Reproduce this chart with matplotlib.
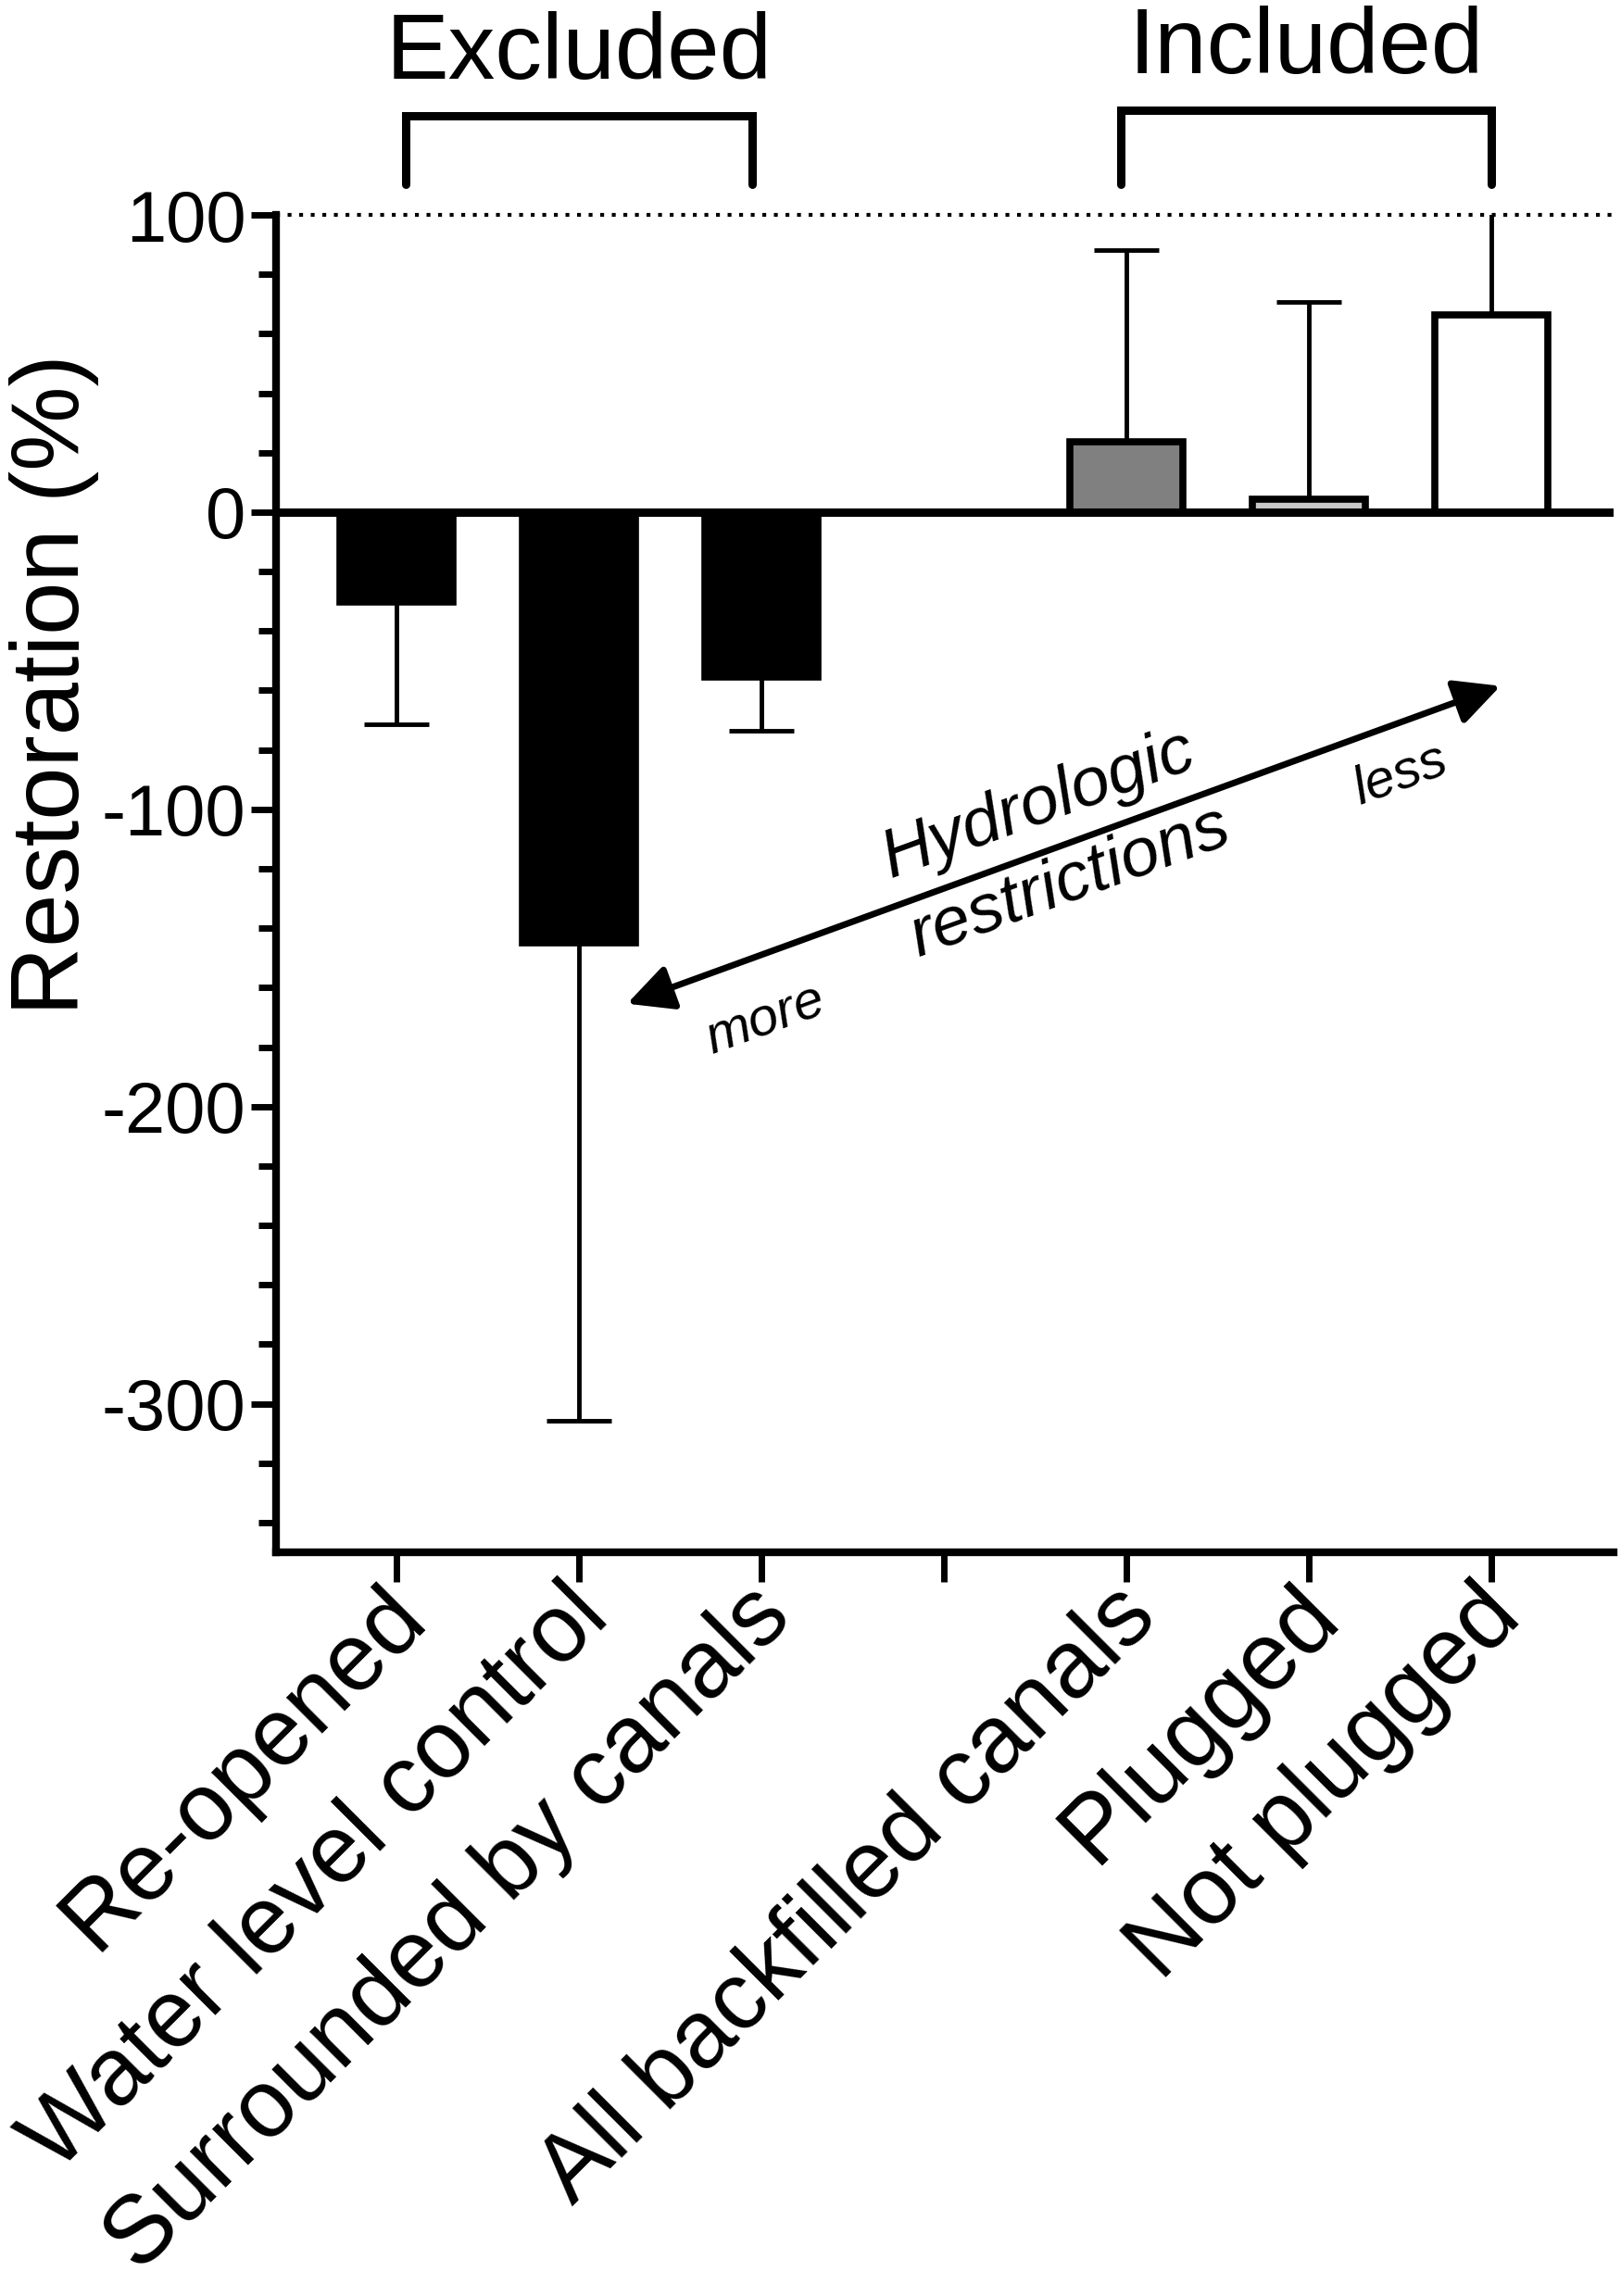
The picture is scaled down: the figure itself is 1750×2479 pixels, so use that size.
import matplotlib
matplotlib.use("Agg")
import matplotlib.pyplot as plt
import matplotlib.transforms
import numpy as np

plt.rcParams['font.family'] = ['Liberation Sans', 'DejaVu Sans']

# data (position 3 is the empty gap)
categories = ["Re-opened", "Water level control", "Surrounded by canals", "",
              "All backfilled canals", "Plugged", "Not plugged"]
positions = [0, 1, 2, 4, 5, 6]
means = [-30.4, -145.0, -55.5, 23.6, 4.2, 66.2]
sd = [41.0, 160.8, 18.1, 64.7, 66.6, 40.0]
fills = ['black', 'black', 'black', '#808080', '#c8c8c8', 'white']

groups = ["Excluded", "Included"]
group_spans = [(0.05, 1.95), (3.97, 6.0)]

fig = plt.figure(figsize=(17.5, 24.79), dpi=100)
ax = fig.add_axes([0.1703, 0.3239, 0.8251, 0.5825])

# bars with one-sided error bars (away from zero)
for x, m, s, c in zip(positions, means, sd, fills):
    ax.bar(x, m, width=0.62, color=c, edgecolor='black', linewidth=5.5, zorder=2)
    if m < 0:
        yerr = [[s], [0]]
    else:
        yerr = [[0], [s]]
    ax.errorbar(x, m, yerr=yerr, fmt='none', ecolor='black', elinewidth=3.5,
                capsize=25, capthick=3.5, zorder=1)

# zero line and 100 % dotted line
ax.axhline(0, color='black', linewidth=6.5, zorder=3)
ax.axhline(100, color='black', linewidth=3, linestyle=(0, (1, 2)),
           clip_on=False, zorder=1)

ax.set_xlim(-0.66, 6.67)
ax.set_ylim(-350, 100)

for side in ['top', 'right']:
    ax.spines[side].set_visible(False)
for side in ['left', 'bottom']:
    ax.spines[side].set_linewidth(6)

ax.set_yticks([100, 0, -100, -200, -300])
ax.set_yticklabels(['100', '0', '-100', '-200', '-300'])
ax.set_yticks(np.arange(-340, 100, 20), minor=True)
ax.tick_params(axis='y', which='major', length=19.5, width=5, labelsize=56, pad=4)
ax.tick_params(axis='y', which='minor', length=14, width=5)

ax.set_xticks(np.arange(len(categories)))
ax.set_xticklabels(categories, rotation=45, ha='right', va='top',
                   rotation_mode='anchor', fontsize=74)
ax.tick_params(axis='x', length=23, width=5, pad=-9)

# move x tick labels a little to the left
offset = matplotlib.transforms.ScaledTranslation(-18 / 100., 0, fig.dpi_scale_trans)
for label in ax.xaxis.get_majorticklabels():
    label.set_transform(label.get_transform() + offset)

ax.set_ylabel('Restoration (%)', fontsize=74, y=0.649, labelpad=2)

# group brackets above the plot
bracket_y = [133.2, 135.1]
label_y = [145.8, 147.7]
for name, (x0, x1), by, ly in zip(groups, group_spans, bracket_y, label_y):
    ax.plot([x0, x0, x1, x1], [110.3, by, by, 110.3], color='black', linewidth=6.5,
            solid_capstyle='round', solid_joinstyle='miter', clip_on=False)
    ax.text((x0 + x1) / 2, ly, name, ha='center', va='baseline', fontsize=73,
            clip_on=False)

# double-headed arrow for hydrologic restrictions
ax.annotate('', xy=(6.05, -58.5), xytext=(1.264, -165.4),
            arrowprops=dict(arrowstyle='<|-|>,head_length=0.6,head_width=0.3',
                            mutation_scale=50, lw=5, color='black',
                            shrinkA=0, shrinkB=0))
ax.text(3.52, -98.4, 'Hydrologic', rotation=20, ha='center', va='center',
        fontsize=54, style='italic', rotation_mode='anchor')
ax.text(3.69, -124.3, 'restrictions', rotation=20, ha='center', va='center',
        fontsize=54, style='italic', rotation_mode='anchor')
ax.text(5.50, -88.4, 'less', rotation=20, ha='center', va='center',
        fontsize=42, style='italic', rotation_mode='anchor')
ax.text(2.02, -171, 'more', rotation=20, ha='center', va='center',
        fontsize=42, style='italic', rotation_mode='anchor')

fig.savefig('out.png', dpi=100)
